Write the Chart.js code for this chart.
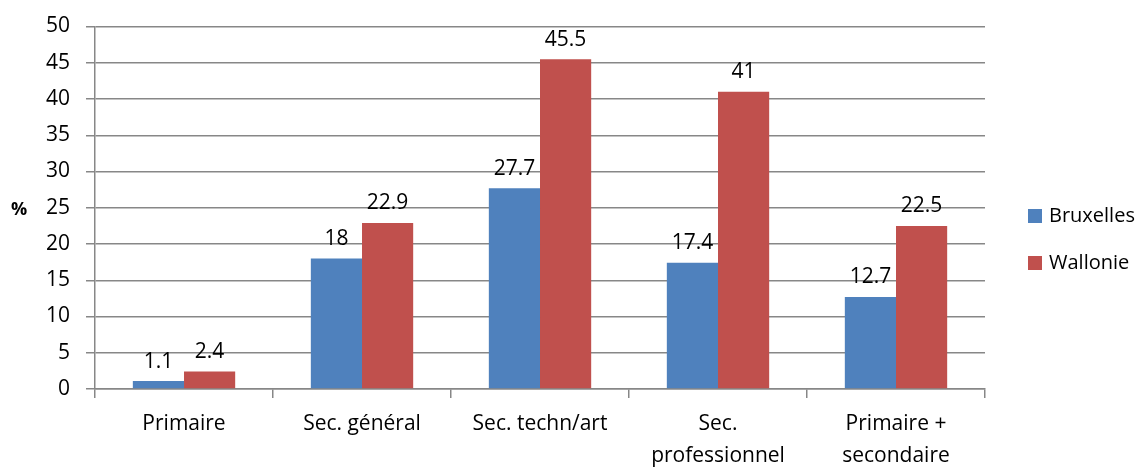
<!DOCTYPE html>
<html>
<head>
<meta charset="utf-8">
<script src="https://cdn.jsdelivr.net/npm/chart.js@4.4.0/dist/chart.umd.min.js"></script>
<style>
  html, body { margin: 0; padding: 0; background: #fff; }
  #wrap { width: 1148px; height: 467px; }
</style>
</head>
<body>
<div id="wrap"><canvas id="myChart"></canvas></div>
<script>
// catégories et valeurs
let categories = ["Primaire", "Sec. général", "Sec. techn/art", ["Sec.", "professionnel"], ["Primaire +", "secondaire"]];
let bruxelles = [1.1, 18, 27.7, 17.4, 12.7];
let wallonie = [2.4, 22.9, 45.5, 41, 22.5];
let seriesNames = ["Bruxelles", "Wallonie"];
let yTicks = [0, 5, 10, 15, 20, 25, 30, 35, 40, 45, 50];

const FONT = "'Open Sans', 'DejaVu Sans', sans-serif";
const GRID = "#878787";
const colors = ["#4F81BD", "#C0504D"];

// étiquettes au-dessus des barres
const valueLabels = {
    id: "valueLabels",
    afterDatasetsDraw(chart) {
        const ctx = chart.ctx;
        ctx.save();
        ctx.font = "21px " + FONT;
        ctx.fillStyle = "#000";
        ctx.textAlign = "center";
        ctx.textBaseline = "bottom";
        chart.data.datasets.forEach((ds, i) => {
            chart.getDatasetMeta(i).data.forEach((bar, j) => {
                ctx.fillText(String(ds.data[j]), bar.x, bar.y - 9);
            });
        });
        ctx.restore();
    }
};

// titre "%" horizontal et légende à droite
const extras = {
    id: "extras",
    afterDraw(chart) {
        const ctx = chart.ctx;
        const area = chart.chartArea;
        ctx.save();
        ctx.font = "bold 18px " + FONT;
        ctx.fillStyle = "#000";
        ctx.textAlign = "center";
        ctx.textBaseline = "middle";
        ctx.fillText("%", 19, (area.top + area.bottom) / 2 + 2);

        ctx.font = "20px " + FONT;
        ctx.textAlign = "left";
        let y0 = 216;
        chart.data.datasets.forEach((ds, i) => {
            let y = y0 + i * 47;
            ctx.fillStyle = ds.backgroundColor;
            ctx.fillRect(area.right + 43, y - 7, 14, 14);
            ctx.fillStyle = "#000";
            ctx.fillText(ds.label, area.right + 64, y);
        });
        ctx.restore();
    }
};

new Chart(document.getElementById("myChart"), {
    type: "bar",
    data: {
        labels: categories,
        datasets: [
            { label: seriesNames[0], data: bruxelles, backgroundColor: colors[0] },
            { label: seriesNames[1], data: wallonie, backgroundColor: colors[1] }
        ]
    },
    options: {
        responsive: true,
        maintainAspectRatio: false,
        animation: false,
        layout: { padding: { left: 30, right: 163, top: 22, bottom: 0 } },
        datasets: { bar: { categoryPercentage: 0.575, barPercentage: 1 } },
        plugins: {
            legend: { display: false },
            tooltip: { enabled: false }
        },
        scales: {
            x: {
                afterFit(axis) { axis.height = 78; },
                grid: { offset: true, drawOnChartArea: false, color: GRID, tickLength: 9, lineWidth: 1.5 },
                border: { color: GRID, width: 1.5 },
                ticks: { color: "#000", font: { family: FONT, size: 21, lineHeight: 1.52 }, padding: 10, maxRotation: 0, autoSkip: false }
            },
            y: {
                min: 0,
                max: 50,
                afterBuildTicks(axis) { axis.ticks = yTicks.map(v => ({ value: v })); },
                grid: { color: GRID, tickLength: 9, lineWidth: 1.5 },
                border: { color: GRID, width: 1.5 },
                ticks: { color: "#000", font: { family: FONT, size: 21, lineHeight: 1 }, padding: 16 }
            }
        }
    },
    plugins: [valueLabels, extras]
});
</script>
</body>
</html>
